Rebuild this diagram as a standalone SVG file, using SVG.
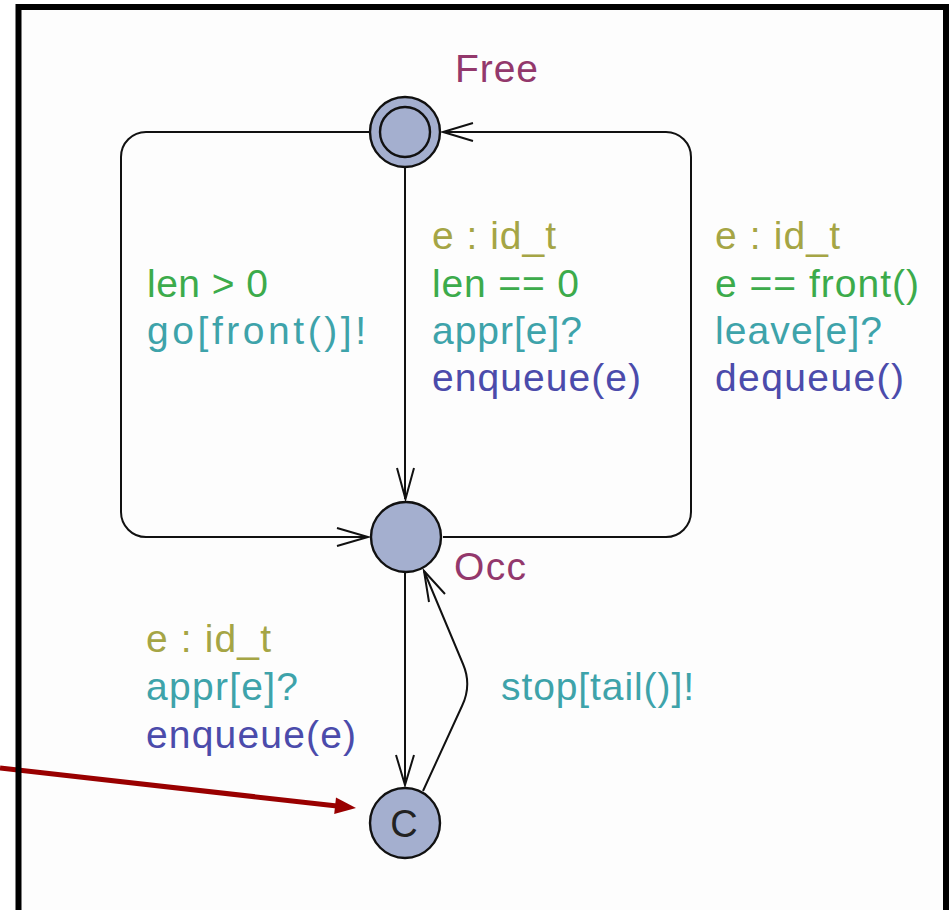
<svg xmlns="http://www.w3.org/2000/svg" width="949" height="910" viewBox="0 0 949 910">
<style>
.loc{fill:#a4afcf;stroke:#111;stroke-width:2.4}
.edge{fill:none;stroke:#111;stroke-width:2}
.ah{fill:none;stroke:#111;stroke-width:2;stroke-linejoin:miter}
text{font-family:"Liberation Sans","DejaVu Sans",Arial,sans-serif;font-size:39px}
.name{fill:#93386c}
.sel{fill:#a5a545}
.grd{fill:#3cab4b}
.syn{fill:#3ea3aa}
.upd{fill:#4b4bab}
</style>
<rect x="0" y="0" width="949" height="910" fill="#ffffff"/>
<rect x="18.5" y="7" width="927.5" height="920" fill="#fdfdfd"/>
<g id="connectors">
  <path class="edge" d="M369 132 H146 A25 25 0 0 0 121 157 V512 A25 25 0 0 0 146 537 H368"/>
  <path class="ah" d="M337 528 L368 537 L337 546"/>
  <path class="edge" d="M443 537 H666 A25 25 0 0 0 691 512 V157 A25 25 0 0 0 666 132 H443"/>
  <path class="ah" d="M473 123 L443 132 L473 141"/>
  <path class="edge" d="M405 168 V499"/>
  <path class="ah" d="M397 468 L405.5 499 L414 468"/>
  <path class="edge" d="M405 573 V785"/>
  <path class="ah" d="M396 755 L405 785 L414 755"/>
  <path class="edge" d="M423 791 L462 706 Q472 685 463 664 L424 571"/>
  <path class="ah" d="M429 602 L424 571 L445 594"/>
</g>
<g id="labels">
  <text class="grd" x="147" y="297" textLength="121" lengthAdjust="spacing">len &gt; 0</text>
  <text class="syn" x="147" y="344" textLength="219" lengthAdjust="spacing">go[front()]!</text>
  <text class="sel" x="432" y="249" textLength="124" lengthAdjust="spacing">e : id_t</text>
  <text class="grd" x="432" y="297" textLength="147" lengthAdjust="spacing">len == 0</text>
  <text class="syn" x="432" y="344" textLength="150" lengthAdjust="spacing">appr[e]?</text>
  <text class="upd" x="432" y="391" textLength="209" lengthAdjust="spacing">enqueue(e)</text>
  <text class="sel" x="715" y="249" textLength="125" lengthAdjust="spacing">e : id_t</text>
  <text class="grd" x="715" y="297" textLength="204" lengthAdjust="spacing">e == front()</text>
  <text class="syn" x="715" y="344" textLength="167" lengthAdjust="spacing">leave[e]?</text>
  <text class="upd" x="715" y="391" textLength="189" lengthAdjust="spacing">dequeue()</text>
  <text class="sel" x="146" y="652" textLength="125" lengthAdjust="spacing">e : id_t</text>
  <text class="syn" x="146" y="700" textLength="152" lengthAdjust="spacing">appr[e]?</text>
  <text class="upd" x="146" y="748" textLength="210" lengthAdjust="spacing">enqueue(e)</text>
  <text class="syn" x="501" y="700" textLength="193" lengthAdjust="spacing">stop[tail()]!</text>
</g>
<g id="Free">
  <circle class="loc" cx="405" cy="132" r="35"/>
  <circle class="loc" cx="405" cy="132" r="25"/>
  <text class="name" x="455" y="82" textLength="83" lengthAdjust="spacing">Free</text>
</g>
<g id="Occ">
  <circle class="loc" cx="406" cy="537" r="35"/>
  <text class="name" x="454" y="580" textLength="72" lengthAdjust="spacing">Occ</text>
</g>
<g id="C">
  <circle class="loc" cx="405" cy="823" r="35"/>
  <text x="404" y="837" text-anchor="middle" fill="#222" style="font-size:38px;font-weight:300">C</text>
</g>
<g id="pointer">
  <line x1="0" y1="768" x2="337" y2="806" stroke="#990000" stroke-width="5"/>
  <polygon points="356,808 334.2,814 336,797.6" fill="#990000"/>
</g>
<rect x="18.5" y="7" width="927.5" height="920" fill="none" stroke="#000" stroke-width="6"/>
</svg>
